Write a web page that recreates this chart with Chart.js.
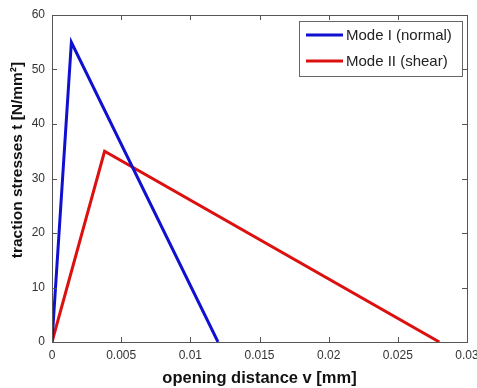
<!DOCTYPE html>
<html>
<head>
<meta charset="utf-8">
<script src="https://cdn.jsdelivr.net/npm/chart.js@4"></script>
<style>
  html, body { margin: 0; padding: 0; background: #fff; }
  #wrap { width: 477px; height: 388px; }
</style>
</head>
<body>
<div id="wrap"><canvas id="tslChart" width="477" height="388"></canvas></div>
<script>
// traction-separation laws
const modeIx = [0, 0.0014, 0.012];
const modeIy = [0, 55, 0];
const modeIIx = [0, 0.0038, 0.028];
const modeIIy = [0, 35, 0];
const xTicks = [0, 0.005, 0.01, 0.015, 0.02, 0.025, 0.03];
const yTicks = [0, 10, 20, 30, 40, 50, 60];
const seriesLabels = ['Mode I (normal)', 'Mode II (shear)'];
const yTitle = 'traction stresses t [N/mm²]';

const FONT = '"Liberation Sans", Arial, sans-serif';
const toPoints = (xs, ys) => xs.map((x, i) => ({ x: x, y: ys[i] }));

// box around plot, inward ticks, legend inside the axes, y label (matlab puts it a bit high)
const matlabFrame = {
    id: 'matlabFrame',
    afterDraw(chart) {
        const ctx = chart.ctx;
        const a = chart.chartArea;
        const xs = chart.scales.x, ys = chart.scales.y;
        ctx.save();
        ctx.strokeStyle = '#555';
        ctx.lineWidth = 1;
        ctx.beginPath();
        xTicks.forEach(v => {
            const px = Math.round(xs.getPixelForValue(v)) + 0.5;
            ctx.moveTo(px, a.bottom); ctx.lineTo(px, a.bottom - 5);
            ctx.moveTo(px, a.top); ctx.lineTo(px, a.top + 5);
        });
        yTicks.forEach(v => {
            const py = Math.round(ys.getPixelForValue(v)) + 0.5;
            ctx.moveTo(a.left, py); ctx.lineTo(a.left + 5, py);
            ctx.moveTo(a.right, py); ctx.lineTo(a.right - 5, py);
        });
        ctx.stroke();
        ctx.strokeRect(Math.round(a.left) + 0.5, Math.round(a.top) + 0.5,
            Math.round(a.right - a.left), Math.round(a.bottom - a.top));

        // legend
        const lx = 299, ly = 21, lw = 163, lh = 55;
        ctx.fillStyle = '#fff';
        ctx.fillRect(lx, ly, lw, lh);
        ctx.strokeStyle = '#666';
        ctx.strokeRect(lx + 0.5, ly + 0.5, lw, lh);
        ctx.font = '15px ' + FONT;
        ctx.textBaseline = 'middle';
        chart.data.datasets.forEach((ds, i) => {
            const yy = ly + 14 + i * 26;
            ctx.strokeStyle = ds.borderColor;
            ctx.lineWidth = 3;
            ctx.beginPath();
            ctx.moveTo(lx + 7, yy); ctx.lineTo(lx + 44, yy);
            ctx.stroke();
            ctx.fillStyle = '#222';
            ctx.fillText(ds.label, lx + 47, yy + 1);
        });

        // y axis title
        ctx.translate(18, 160);
        ctx.rotate(-Math.PI / 2);
        ctx.font = 'bold 15.5px ' + FONT;
        ctx.fillStyle = '#111';
        ctx.textAlign = 'center';
        ctx.textBaseline = 'middle';
        ctx.fillText(yTitle, 0, 0);
        ctx.restore();
    }
};

new Chart(document.getElementById('tslChart'), {
    type: 'line',
    data: {
        datasets: [{
            label: seriesLabels[0],
            data: toPoints(modeIx, modeIy),
            borderColor: '#1010d0',
            borderWidth: 3,
            pointRadius: 0,
            tension: 0
        }, {
            label: seriesLabels[1],
            data: toPoints(modeIIx, modeIIy),
            borderColor: '#dd1010',
            borderWidth: 3,
            pointRadius: 0,
            tension: 0
        }]
    },
    options: {
        responsive: false,
        animation: false,
        layout: { padding: { top: 15, right: 10, left: 0, bottom: 0 } },
        plugins: {
            legend: { display: false },
            tooltip: { enabled: false }
        },
        scales: {
            x: {
                type: 'linear',
                min: 0,
                max: 0.03,
                afterBuildTicks: s => { s.ticks = xTicks.map(v => ({ value: v })); },
                afterFit: s => { s.height = 46; s.paddingLeft = 0; s.paddingRight = 0; },
                grid: { display: false, drawTicks: false },
                border: { display: false },
                ticks: {
                    color: '#333',
                    font: { family: FONT, size: 12 },
                    padding: 6,
                    maxRotation: 0,
                    callback: v => String(v)
                },
                title: {
                    display: true,
                    text: 'opening distance v [mm]',
                    color: '#111',
                    font: { family: FONT, size: 16.5, weight: 'bold' },
                    padding: { top: 2, bottom: 0 }
                }
            },
            y: {
                type: 'linear',
                min: 0,
                max: 60,
                afterBuildTicks: s => { s.ticks = yTicks.map(v => ({ value: v })); },
                afterFit: s => { s.width = 52; s.paddingTop = 0; s.paddingBottom = 0; },
                grid: { display: false, drawTicks: false },
                border: { display: false },
                ticks: {
                    color: '#333',
                    font: { family: FONT, size: 12 },
                    padding: 7
                },
                title: { display: false }
            }
        }
    },
    plugins: [matlabFrame]
});
</script>
</body>
</html>
